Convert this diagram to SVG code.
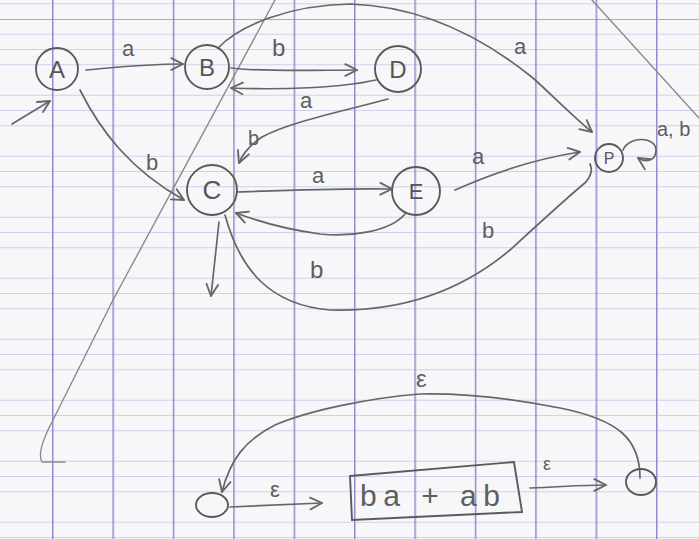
<svg xmlns="http://www.w3.org/2000/svg" width="699" height="539" viewBox="0 0 699 539">
<style>
.ink{fill:none;stroke:#666;stroke-width:1.7;stroke-linecap:round;stroke-linejoin:round}
.node{fill:none;stroke:#5a5a5a;stroke-width:1.9}
.lbl{font-family:"Liberation Sans","DejaVu Sans",sans-serif;fill:#5e5e5e}
.nl{font-family:"Liberation Sans","DejaVu Sans",sans-serif;fill:#555;text-anchor:middle}
.faint{fill:none;stroke:#8a8a8a;stroke-width:1.4;stroke-linecap:round}
</style>
<defs>
<pattern id="paper" patternUnits="userSpaceOnUse" x="52" y="19" width="60.4" height="61">
<line x1="0" y1="15.25" x2="60.4" y2="15.25" stroke="#d0d0ea" stroke-width="1"/>
<line x1="0" y1="30.5" x2="60.4" y2="30.5" stroke="#d0d0ea" stroke-width="1"/>
<line x1="0" y1="45.75" x2="60.4" y2="45.75" stroke="#d0d0ea" stroke-width="1"/>
<line x1="0" y1="0.5" x2="60.4" y2="0.5" stroke="#a8a8d8" stroke-width="1.2"/>
<line x1="0.75" y1="0" x2="0.75" y2="61" stroke="#8c8cce" stroke-width="1.5"/>
</pattern>
<marker id="arr" viewBox="0 0 12 12" refX="11" refY="6" markerWidth="14" markerHeight="14" markerUnits="userSpaceOnUse" orient="auto">
<path d="M1,1 L11,6 L1,11" fill="none" stroke="#666" stroke-width="1.6" stroke-linecap="round" stroke-linejoin="round"/>
</marker>
</defs>
<g id="background">
<rect width="699" height="539" fill="#f7f7fa"/>
<rect width="699" height="539" fill="url(#paper)"/>
</g>
<g id="strokes">
<path class="faint" d="M275,0 L113,300 L53,420 Q36,452 42,462 L65,462"/>
<path class="faint" d="M592,0 L699,118"/>
</g>
<g id="connectors">
<path class="ink" d="M12,124 L50,101" marker-end="url(#arr)"/>
<path class="ink" d="M86,70 C110,68 140,64 183,64" marker-end="url(#arr)"/>
<text class="lbl" x="122" y="56" font-size="22">a</text>
<path class="ink" d="M231,68 C260,72 320,70 357,70" marker-end="url(#arr)"/>
<text class="lbl" x="272" y="56" font-size="24">b</text>
<path class="ink" d="M376,80 C340,88 280,90 231,88" marker-end="url(#arr)"/>
<text class="lbl" x="300" y="108" font-size="22">a</text>
<path class="ink" d="M388,99 C340,112 290,122 262,137 C250,145 243,153 239,163" marker-end="url(#arr)"/>
<text class="lbl" x="248" y="145" font-size="20">b</text>
<path class="ink" d="M80,90 C100,130 130,170 184,200" marker-end="url(#arr)"/>
<text class="lbl" x="146" y="170" font-size="22">b</text>
<path class="ink" d="M238,192 C290,190 340,188 392,189" marker-end="url(#arr)"/>
<text class="lbl" x="312" y="183" font-size="22">a</text>
<path class="ink" d="M405,214 C390,232 350,237 320,234 C290,230 260,222 236,213" marker-end="url(#arr)"/>
<text class="lbl" x="310" y="278" font-size="24">b</text>
<path class="ink" d="M219,222 L211,296" marker-end="url(#arr)"/>
<path class="ink" d="M455,190 C500,170 540,158 580,152" marker-end="url(#arr)"/>
<text class="lbl" x="472" y="164" font-size="22">a</text>
<path class="ink" d="M225,215 C240,270 270,305 330,310 C400,312 460,292 510,250 C545,218 570,195 586,182 Q594,172 590,164"/>
<text class="lbl" x="482" y="238" font-size="22">b</text>
<path class="ink" d="M218,48 C240,25 290,5 350,4 C420,6 480,35 533,78 C555,98 575,118 592,132" marker-end="url(#arr)"/>
<text class="lbl" x="514" y="54" font-size="22">a</text>
<path class="ink" d="M623,150 C630,135 656,137 656,150 C656,161 646,163 638,158" marker-end="url(#arr)"/>
<text class="lbl" x="657" y="136" font-size="20">a, b</text>
<path class="ink" d="M230,507 L322,503" marker-end="url(#arr)"/>
<text class="lbl" x="270" y="497" font-size="22">ε</text>
<path class="ink" d="M530,488 C560,487 580,485 606,485" marker-end="url(#arr)"/>
<text class="lbl" x="543" y="470" font-size="18">ε</text>
<path class="ink" d="M640,478 C640,440 620,420 560,408 C520,400 470,393 420,394 C370,398 310,410 275,425 C245,440 230,460 222,492" marker-end="url(#arr)"/>
<text class="lbl" x="416" y="387" font-size="24">ε</text>
</g>
<g id="A"><circle class="node" cx="57" cy="69" r="21"/><text class="nl" x="57" y="78" font-size="24">A</text></g>
<g id="B"><circle class="node" cx="207" cy="67" r="22"/><text class="nl" x="207" y="76" font-size="24">B</text></g>
<g id="D"><circle class="node" cx="398" cy="69" r="23"/><text class="nl" x="398" y="78" font-size="24">D</text></g>
<g id="C"><circle class="node" cx="212" cy="190" r="25"/><text class="nl" x="212" y="199" font-size="26">C</text></g>
<g id="E"><circle class="node" cx="416" cy="191" r="24"/><text class="nl" x="416" y="199" font-size="22">E</text></g>
<g id="P"><circle class="node" cx="609" cy="158" r="14"/><text class="nl" x="609" y="164" font-size="16">P</text></g>
<g id="start"><ellipse class="node" cx="212" cy="505" rx="16" ry="12"/></g>
<g id="regex"><path class="node" d="M350,476 L514,462 L522,512 L352,520 Z"/><text class="lbl" x="360" y="506" font-size="30" textLength="140">ba + ab</text></g>
<g id="final"><ellipse class="node" cx="641" cy="482" rx="15" ry="13"/></g>
</svg>
